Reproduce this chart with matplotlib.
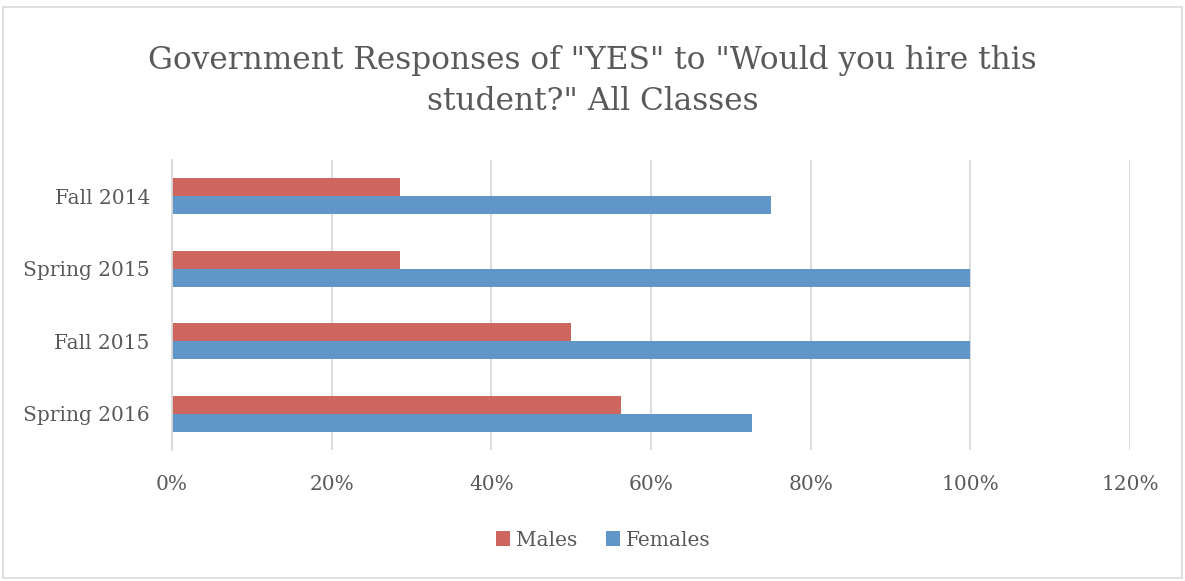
import matplotlib.pyplot as plt
import numpy as np
from matplotlib.patches import Rectangle

# data
terms = ["Fall 2014", "Spring 2015", "Fall 2015", "Spring 2016"]
males = [28.6, 28.6, 50.0, 56.2]
females = [75.0, 100.0, 100.0, 72.7]
x_ticks = [0, 20, 40, 60, 80, 100, 120]

text_color = "#595959"
plt.rcParams["font.family"] = ["DejaVu Serif"]

fig = plt.figure(figsize=(11.85, 5.81), dpi=100)
ax = fig.add_axes([172 / 1185, 1 - 450 / 581, (1130 - 172) / 1185, 290 / 581])

# outer chart border
fig.patches.append(Rectangle((3 / 1185, 3 / 581), 1179 / 1185, 571 / 581,
                             transform=fig.transFigure, fill=False,
                             edgecolor="#d9d9d9", linewidth=1.2))

y_pos = np.arange(len(terms))[::-1]
bar_h = 0.25
ax.barh(y_pos + bar_h / 2, males, height=bar_h, color="#CC665E", label="Males")
ax.barh(y_pos - bar_h / 2, females, height=bar_h, color="#6096C8", label="Females")

ax.set_xlim(0, 120)
ax.set_ylim(-0.5, 3.5)
ax.set_xticks(x_ticks)
ax.set_xticklabels([f"{t}%" for t in x_ticks])
ax.set_yticks(y_pos)
ax.set_yticklabels(terms)
ax.tick_params(axis="both", length=0, labelsize=14.5, labelcolor=text_color)
ax.tick_params(axis="x", pad=18)
ax.tick_params(axis="y", pad=16)

ax.grid(axis="x", color="#d9d9d9", linewidth=1.3)
ax.set_axisbelow(True)
for side in ["top", "right", "bottom"]:
    ax.spines[side].set_visible(False)
ax.spines["left"].set_color("#d9d9d9")
ax.spines["left"].set_linewidth(1.3)

fig.text(0.5, 1 - 60 / 581, 'Government Responses of "YES" to "Would you hire this',
         ha="center", va="center", fontsize=22.5, color=text_color)
fig.text(0.5, 1 - 101 / 581, 'student?" All Classes',
         ha="center", va="center", fontsize=22.5, color=text_color)

fig.legend(loc="center", bbox_to_anchor=(0.509, 1 - 540 / 581), ncol=2, frameon=False,
           fontsize=14.5, labelcolor=text_color, handlelength=0.7, handleheight=0.7,
           handletextpad=0.3, columnspacing=1.4)

fig.savefig("out.png", dpi=100)
